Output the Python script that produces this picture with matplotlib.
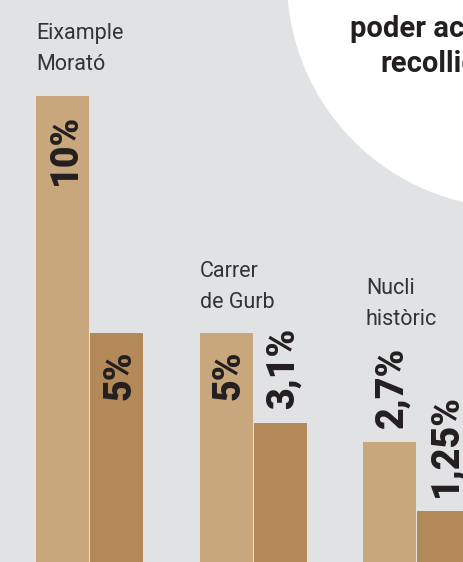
import matplotlib
matplotlib.use('Agg')
import matplotlib.pyplot as plt
from matplotlib.patches import Circle

# data
places = ['Eixample\nMorató', 'Carrer\nde Gurb', 'Nucli\nhistòric']
years = ['2016', '2017']
vals_2016 = [10, 5, 2.7]
vals_2017 = [5, 3.1, 1.25]
labels_2016 = ['10%', '5%', '2,7%']
labels_2017 = ['5%', '3,1%', '1,25%']

# layout (pixels)
W, H = 464, 562
px = 47.4                      # pixels per percent point
x16 = [62.5, 226.5, 389.5]     # bar centres
x17 = [x + 54 for x in x16]
bar_w = 53
place_xy = [(36, 70), (200, 308), (366, 325)]

bg = '#e1e2e4'
c16 = '#c9a77c'
c17 = '#b4895a'
ink = '#231f20'
fam = ['Roboto', 'DejaVu Sans']

fig = plt.figure(figsize=(W / 100, H / 100), dpi=100)
fig.patch.set_facecolor(bg)

# background layer, pixel units, y down
back = fig.add_axes([0, 0, 1, 1])
back.set_xlim(0, W)
back.set_ylim(H, 0)
back.axis('off')
back.add_patch(Circle((515, -20), 228, color='white', lw=0))
back.text(350, 37, 'poder accedir', family=fam, weight='bold', fontsize=21,
          color=ink, va='baseline', ha='left')
back.text(380, 72, 'recollida', family=fam, weight='bold', fontsize=21,
          color=ink, va='baseline', ha='left')
for name, (x, y) in zip(places, place_xy):
    back.text(x, y, name, family=fam, fontsize=15.5, color='#333333',
              va='baseline', ha='left', linespacing=1.62)

# bars
ax = fig.add_axes([0, 0, 1, 1])
ax.patch.set_alpha(0)
ax.set_xlim(0, W)
ax.set_ylim(8 / px, (H + 8) / px)
ax.axis('off')

ax.bar(x16, vals_2016, width=bar_w, color=c16, lw=0)
ax.bar(x17, vals_2017, width=bar_w, color=c17, lw=0)

def pct_label(x, v, txt):
    inside = v * px > 150
    ax.annotate(txt, (x, v), xytext=(3, -18 if inside else 14),
                textcoords='offset pixels', rotation=90, ha='center',
                va='top' if inside else 'bottom', family=fam,
                weight='black', fontsize=27, color=ink)

for x, v, t in zip(x16, vals_2016, labels_2016):
    pct_label(x, v, t)
for x, v, t in zip(x17, vals_2017, labels_2017):
    pct_label(x, v, t)

for xs in (x16, x17):
    yr = years[0] if xs is x16 else years[1]
    for x in xs:
        ax.annotate(yr, (x, 0), xytext=(1, 9), textcoords='offset pixels',
                    rotation=90, ha='center', va='bottom', family=fam,
                    fontsize=15.5, color='#3c3c3c')

fig.savefig('out.png', dpi=100, facecolor=bg)
